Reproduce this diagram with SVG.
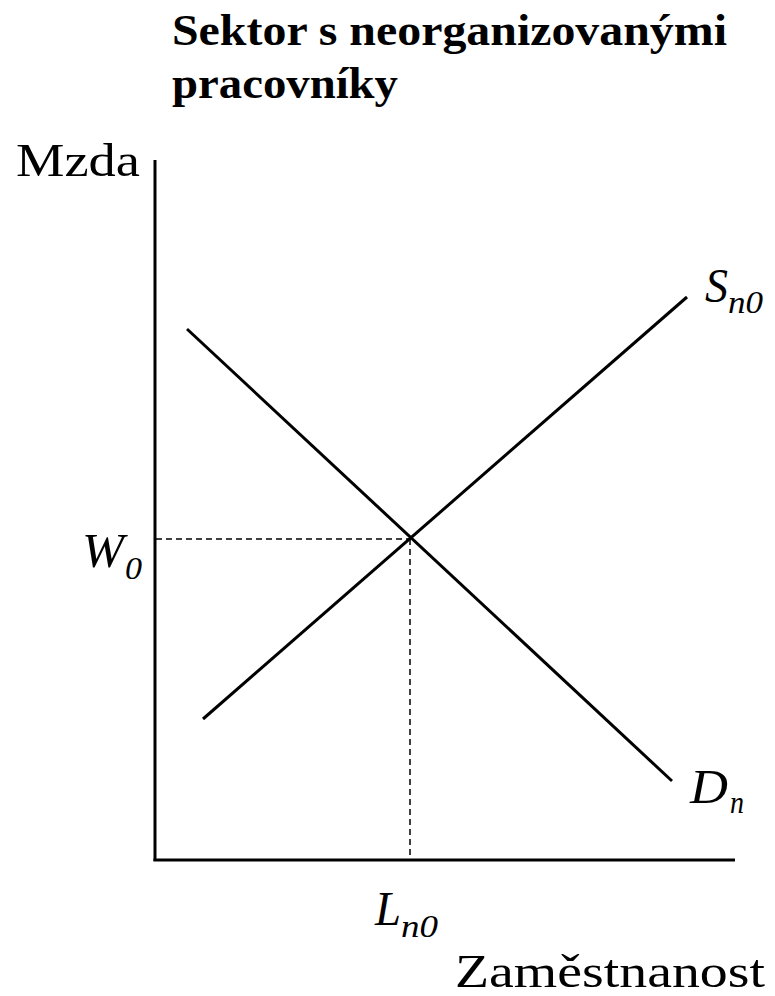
<svg xmlns="http://www.w3.org/2000/svg" width="775" height="996" viewBox="0 0 775 996">
<style>
text{font-family:"Liberation Serif","DejaVu Serif",serif;fill:#000}
.t{font-weight:bold;font-size:44px}
.l{font-size:46px}
.i{font-style:italic;font-size:48px}
.s{font-style:italic;font-size:32px}
.ax{stroke:#000;stroke-width:3;fill:none}
.cv{stroke:#000;stroke-width:3;fill:none}
.d{stroke:#000;stroke-width:1.5;stroke-dasharray:6,4;fill:none}
</style>
<rect width="775" height="996" fill="#fff"/>
<g id="title">
<text class="t" x="172" y="45" textLength="555" lengthAdjust="spacingAndGlyphs">Sektor s neorganizovanými</text>
<text class="t" x="172" y="98" textLength="226" lengthAdjust="spacingAndGlyphs">pracovníky</text>
</g>
<g id="axes">
<line class="ax" x1="155" y1="160" x2="155" y2="861"/>
<line class="ax" x1="153.5" y1="860" x2="735" y2="860"/>
<text class="l" x="16" y="176" textLength="124" lengthAdjust="spacingAndGlyphs">Mzda</text>
<text class="l" x="455" y="987" textLength="310" lengthAdjust="spacingAndGlyphs">Zaměstnanost</text>
</g>
<g id="connectors">
<line class="d" x1="156" y1="539" x2="410" y2="539"/>
<line class="d" x1="410" y1="539" x2="410" y2="859"/>
</g>
<g id="supply">
<line class="cv" x1="203" y1="719" x2="687" y2="297"/>
<text class="i" x="705" y="302" textLength="23" lengthAdjust="spacingAndGlyphs">S</text>
<text class="s" x="728" y="313" textLength="35" lengthAdjust="spacingAndGlyphs">n0</text>
</g>
<g id="demand">
<line class="cv" x1="187" y1="329" x2="672" y2="781"/>
<text class="i" x="690" y="803" textLength="38" lengthAdjust="spacingAndGlyphs">D</text>
<text class="s" x="730" y="813" textLength="14" lengthAdjust="spacingAndGlyphs">n</text>
</g>
<g id="w0">
<text class="i" x="82" y="567" textLength="42" lengthAdjust="spacingAndGlyphs">W</text>
<text class="s" x="125" y="579" textLength="17" lengthAdjust="spacingAndGlyphs">0</text>
</g>
<g id="ln0">
<text class="i" x="375" y="925" textLength="26" lengthAdjust="spacingAndGlyphs">L</text>
<text class="s" x="401" y="937" textLength="37" lengthAdjust="spacingAndGlyphs">n0</text>
</g>
</svg>
